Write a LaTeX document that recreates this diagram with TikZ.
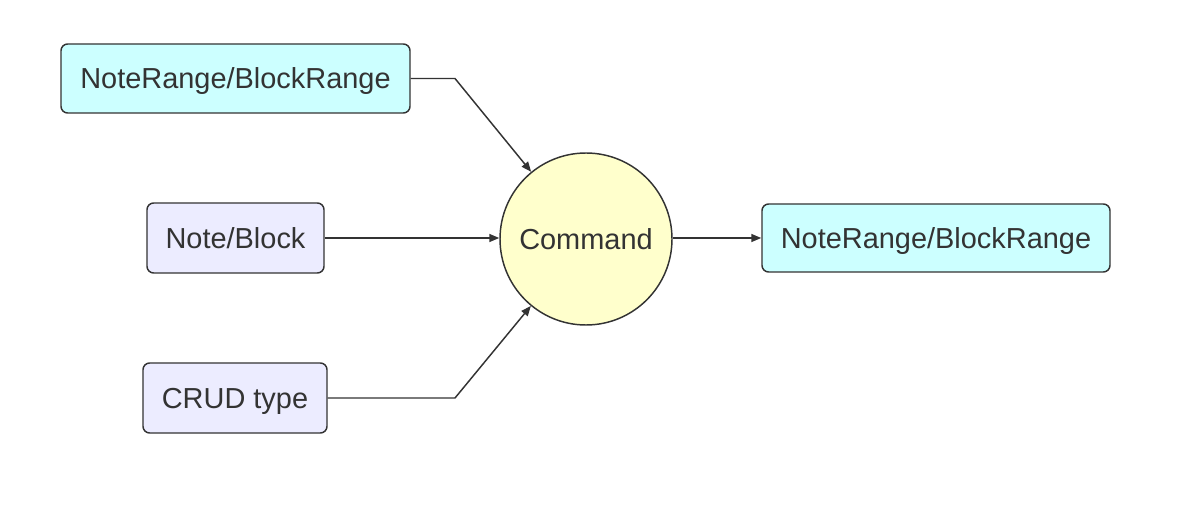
\documentclass[tikz,border=0pt]{standalone}
\usepackage{fontspec}
\setmainfont{Liberation Sans}
\usetikzlibrary{arrows.meta}
\definecolor{txt}{HTML}{333333}
\definecolor{cyanfill}{HTML}{CCFFFF}
\definecolor{lavfill}{HTML}{ECECFF}
\definecolor{yelfill}{HTML}{FFFFCC}
\begin{document}
\begin{tikzpicture}[x=0.75pt,y=-0.75pt,
  every node/.style={font=\fontsize{21.7}{26}\selectfont, text=txt, text height=15.5pt, text depth=0pt},
  box/.style={draw=txt, line width=1.1pt, rounded corners=5pt, inner sep=0pt},
  cyanbox/.style={box, fill=cyanfill},
  lavbox/.style={box, fill=lavfill},
  cmd/.style={circle, draw=txt, line width=1.1pt, fill=yelfill, minimum size=129pt, inner sep=0pt},
  conn/.style={draw=txt, line width=1.1pt, -{Triangle[length=7.5pt,width=6pt]}}]
\useasboundingbox (0,0) rectangle (1200,513);
\node[cyanbox, minimum width=261.75pt, minimum height=51.75pt] (nr1) at (235.5,78.5) {NoteRange/BlockRange};
\node[lavbox, minimum width=132.75pt, minimum height=52.5pt] (nb) at (235.5,238) {Note/Block};
\node[lavbox, minimum width=138pt, minimum height=52.5pt] (crud) at (235,398) {CRUD type};
\node[cmd] (cmd) at (586,239) {Command};
\node[cyanbox, minimum width=261pt, minimum height=51pt] (nr2) at (936,238) {NoteRange/BlockRange};
\coordinate (k1) at (455,78.5);
\coordinate (k3) at (455,398);
\draw[conn] (nr1.east) -- (k1) -- (cmd);
\draw[conn] (nb.east) -- (cmd.west |- nb.east);
\draw[conn] (crud.east) -- (k3) -- (cmd);
\draw[conn] (cmd.east |- nr2.west) -- (nr2.west);
\end{tikzpicture}
\end{document}
